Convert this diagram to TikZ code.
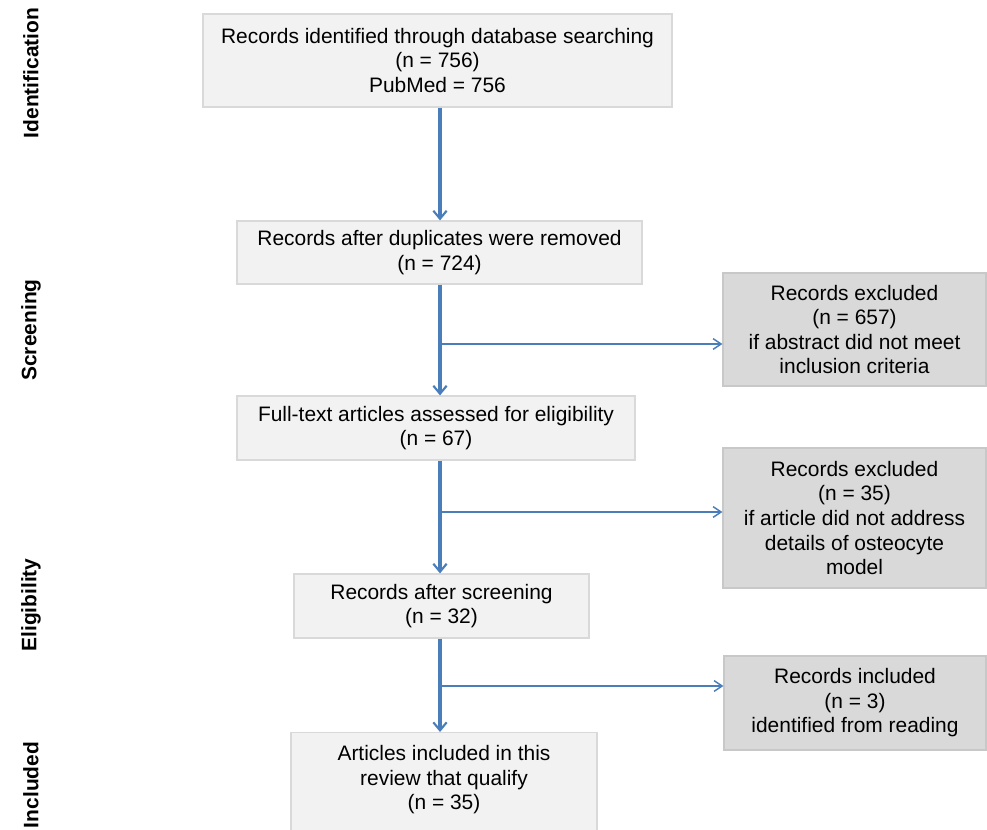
\documentclass[tikz,border=0pt]{standalone}
\usepackage{fontspec}
\setmainfont{Liberation Sans}
\usepackage{tikz}
\usetikzlibrary{arrows.meta,positioning}
\definecolor{boxfill}{HTML}{F2F2F2}
\definecolor{boxline}{HTML}{D9D9D9}
\definecolor{exclfill}{HTML}{D9D9D9}
\definecolor{exclline}{HTML}{C8C8C8}
\definecolor{flow}{HTML}{4A7EBB}
\newdimen\pxu
\pxu=0.75pt
\tikzset{>=stealth}
\tikzset{
  stagebox/.style={draw=boxline, fill=boxfill, line width=0.9pt, align=center, inner sep=0pt},
  exclbox/.style={draw=exclline, fill=exclfill, line width=0.9pt, align=center, inner sep=0pt},
  phase/.style={rotate=90, font=\bfseries},
  trunkarrow/.style={draw=flow, line width=2.3pt, -{Straight Barb[length=6pt,width=10pt,line width=1.6pt]}},
  sidearrow/.style={draw=flow, line width=1.2pt, -{Straight Barb[length=6pt,width=8pt,line width=1.1pt]}}
}

\begin{document}
\begin{tikzpicture}[x=\pxu, y=-\pxu]
	\fontsize{15.7}{18.4}\selectfont
	\useasboundingbox (0,0) rectangle (987,830);
	\node[stagebox, minimum width=469\pxu, minimum height=93\pxu] (ident) at (437.5,60.5)
		{Records identified through database searching\\(n = 756)\\PubMed = 756};
	\node[stagebox, minimum width=405\pxu, minimum height=63\pxu] (dedup) at (439.5,252.5)
		{Records after duplicates were removed\\(n = 724)};
	\node[stagebox, minimum width=398\pxu, minimum height=64\pxu] (fulltext) at (436,428)
		{Full-text articles assessed for eligibility\\(n = 67)};
	\node[stagebox, minimum width=295\pxu, minimum height=64\pxu] (screened) at (441.5,606)
		{Records after screening\\(n = 32)};
	\node[stagebox, minimum width=306\pxu, minimum height=122\pxu, anchor=north] (incl) at (444,732)
		{Articles included in this\\review that qualify\\(n = 35)\\\strut};
	\node[exclbox, minimum width=263\pxu, minimum height=113\pxu] (exabs) at (854.5,329.5)
		{Records excluded\\(n = 657)\\if abstract did not meet\\inclusion criteria};
	\node[exclbox, minimum width=263\pxu, minimum height=140\pxu] (exart) at (854.5,518)
		{Records excluded\\(n = 35)\\if article did not address\\details of osteocyte\\model};
	\node[exclbox, minimum width=262\pxu, minimum height=94\pxu] (addread) at (855,703)
		{Records included\\(n = 3)\\identified from reading};
	\node[phase] (pident) at (31,73) {Identification};
	\node[phase] (pscreen) at (31,330) {Screening};
	\node[phase] (pelig) at (31,605) {Eligibility};
	\node[phase] (pincl) at (31,785) {Included};
	\coordinate (trunk) at (440,0);
	\coordinate (b1) at (440,344);
	\coordinate (b2) at (440,512);
	\coordinate (b3) at (440,686);
	\draw[trunkarrow] (ident.south -| trunk) -- (dedup.north -| trunk);
	\draw[trunkarrow] (dedup.south -| trunk) -- (fulltext.north -| trunk);
	\draw[trunkarrow] (fulltext.south -| trunk) -- (screened.north -| trunk);
	\draw[trunkarrow] (screened.south -| trunk) -- (incl.north -| trunk);
	\draw[sidearrow] (b1) -- (b1 -| exabs.west);
	\draw[sidearrow] (b2) -- (b2 -| exart.west);
	\draw[sidearrow] (b3) -- (b3 -| addread.west);
\end{tikzpicture}
\end{document}
